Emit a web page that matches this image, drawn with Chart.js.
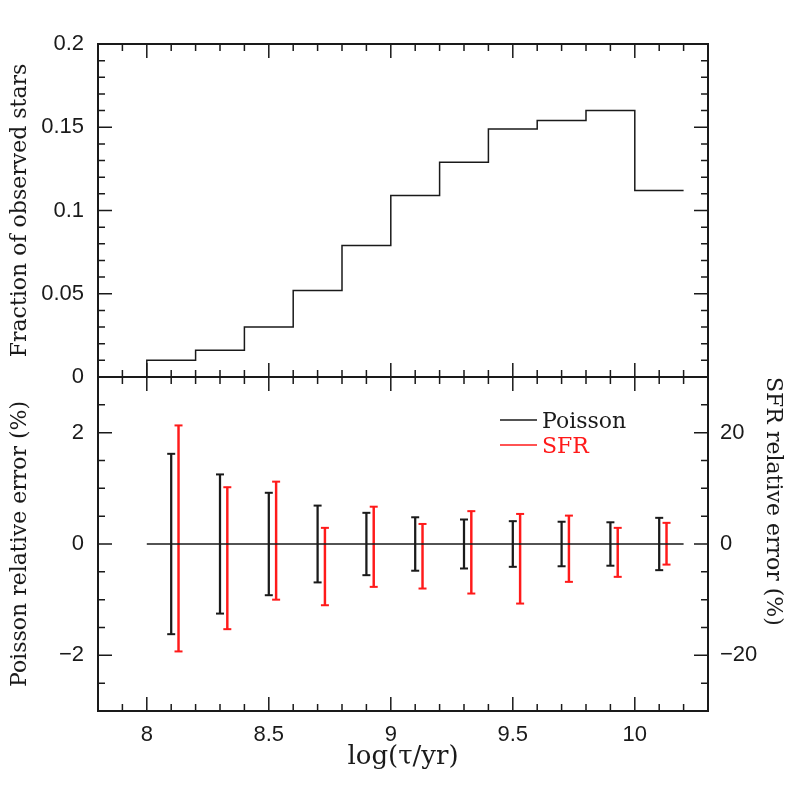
<!DOCTYPE html>
<html>
<head>
<meta charset="utf-8">
<script src="https://cdn.jsdelivr.net/npm/chart.js@4.4.0/dist/chart.umd.min.js"></script>
<style>
    html, body { margin: 0; background: #fff; }
    #wrap { position: relative; width: 797px; height: 797px; }
    #wrap canvas { position: absolute; left: 0; top: 0; }
</style>
</head>
<body>
<div id="wrap">
    <canvas id="chartFraction" width="797" height="797"></canvas>
    <canvas id="chartError" width="797" height="797"></canvas>
</div>
<script>
// Top panel: fraction of observed stars per age bin
const binEdges = [8.0, 8.2, 8.4, 8.6, 8.8, 9.0, 9.2, 9.4, 9.6, 9.8, 10.0, 10.2];
const fraction = [0.010, 0.016, 0.030, 0.052, 0.079, 0.109, 0.129, 0.149, 0.154, 0.160, 0.112];

// Bottom panel: relative errors
const binCentres = [8.1, 8.3, 8.5, 8.7, 8.9, 9.1, 9.3, 9.5, 9.7, 9.9, 10.1];
const poissonErr = [1.62, 1.25, 0.92, 0.69, 0.56, 0.48, 0.44, 0.41, 0.40, 0.39, 0.47];
const sfrX = [8.13, 8.33, 8.53, 8.73, 8.93, 9.13, 9.33, 9.53, 9.73, 9.93, 10.13];
const sfrUpper = [21.3, 10.2, 11.2, 2.9, 6.7, 3.6, 5.9, 5.4, 5.1, 2.9, 3.8];
const sfrLower = [-19.3, -15.3, -10.0, -11.0, -7.7, -8.0, -8.9, -10.7, -6.8, -5.9, -3.7];
const zeroLineX = [8.0, 10.2];

// Tick labels
const ageTicks = [8, 8.5, 9, 9.5, 10];
const fracTicks = [0, 0.05, 0.1, 0.15, 0.2];
const errTicks = [-2, 0, 2];
const sfrTicks = [-20, 0, 20];

const ink = '#1a1a1a';
const red = '#ff1a1a';
const tickFont = { family: 'Liberation Sans', size: 22 };
const serifFont = { family: 'DejaVu Serif', size: 22 };

function fmt(v) {
    return String(v).replace('-', '\u2212');
}

// frame with inward major/minor ticks on all four sides
const frameTicks = {
    id: 'frameTicks',
    afterDraw(chart, args, opts) {
        const ctx = chart.ctx;
        const a = chart.chartArea;
        ctx.save();
        ctx.strokeStyle = ink;
        ctx.lineWidth = 1.5;

        function eachTick(scale, minor, major, cb) {
            const k0 = Math.ceil(scale.min / minor - 1e-6);
            const k1 = Math.floor(scale.max / minor + 1e-6);
            for (let k = k0; k <= k1; k++) {
                const v = k * minor;
                const isMajor = Math.abs(v / major - Math.round(v / major)) < 1e-6;
                cb(scale.getPixelForValue(v), isMajor ? 14 : 7);
            }
        }

        ctx.beginPath();
        eachTick(chart.scales.x, opts.x.minor, opts.x.major, (px, len) => {
            ctx.moveTo(px, a.bottom); ctx.lineTo(px, a.bottom - len);
            ctx.moveTo(px, a.top); ctx.lineTo(px, a.top + len);
        });
        eachTick(chart.scales[opts.left.scale], opts.left.minor, opts.left.major, (py, len) => {
            ctx.moveTo(a.left, py); ctx.lineTo(a.left + len, py);
        });
        eachTick(chart.scales[opts.right.scale], opts.right.minor, opts.right.major, (py, len) => {
            ctx.moveTo(a.right, py); ctx.lineTo(a.right - len, py);
        });
        ctx.stroke();

        ctx.lineWidth = 2;
        ctx.strokeRect(a.left, a.top, a.right - a.left, a.bottom - a.top);
        ctx.restore();
    }
};

// legend drawn inside the lower panel
const errLegend = {
    id: 'errLegend',
    afterDraw(chart, args, opts) {
        const ctx = chart.ctx;
        ctx.save();
        ctx.font = serifFont.size + 'px "' + serifFont.family + '"';
        ctx.textBaseline = 'alphabetic';
        ctx.lineWidth = 1.5;
        opts.items.forEach((item, i) => {
            const y = opts.y + i * opts.gap;
            ctx.strokeStyle = item.color;
            ctx.beginPath();
            ctx.moveTo(opts.x, y);
            ctx.lineTo(opts.x + 37, y);
            ctx.stroke();
            ctx.fillStyle = item.color;
            ctx.fillText(item.label, opts.x + 42, y + 8);
        });
        ctx.restore();
    }
};

function setTicks(values) {
    return scale => { scale.ticks = values.map(v => ({ value: v })); };
}

// upper panel
new Chart(document.getElementById('chartFraction'), {
    type: 'line',
    data: {
        datasets: [{
            data: [{ x: binEdges[0], y: 0 }].concat(fraction.map((f, i) => ({ x: binEdges[i + 1], y: f }))),
            stepped: 'after',
            borderColor: ink,
            borderWidth: 1.5,
            pointRadius: 0,
            fill: false
        }]
    },
    options: {
        responsive: false,
        animation: false,
        layout: { padding: { top: 44, right: 89, bottom: 420, left: 0 } },
        plugins: {
            legend: { display: false },
            tooltip: { enabled: false },
            frameTicks: {
                x: { minor: 0.1, major: 0.5 },
                left: { scale: 'y', minor: 0.01, major: 0.05 },
                right: { scale: 'y', minor: 0.01, major: 0.05 }
            }
        },
        scales: {
            x: { type: 'linear', min: 7.8, max: 10.3, display: false },
            y: {
                min: 0, max: 0.2,
                afterBuildTicks: setTicks(fracTicks),
                afterFit: s => { s.width = 98; },
                grid: { display: false, drawTicks: false },
                border: { display: false },
                ticks: { font: tickFont, color: ink, padding: 14, callback: fmt },
                title: { display: true, text: 'Fraction of observed stars', font: serifFont, color: ink, padding: { top: 7, bottom: 0 } }
            }
        }
    },
    plugins: [frameTicks]
});

// lower panel
new Chart(document.getElementById('chartError'), {
    type: 'scatter',
    data: {
        datasets: [
            {
                type: 'line',
                data: zeroLineX.map(x => ({ x: x, y: 0 })),
                borderColor: ink,
                borderWidth: 1.5,
                pointRadius: 0,
                yAxisID: 'y'
            },
            {
                type: 'bar',
                data: binCentres.map((x, i) => ({ x: x, y: [-poissonErr[i], poissonErr[i]] })),
                backgroundColor: ink,
                barThickness: 1.6,
                grouped: false,
                yAxisID: 'y'
            },
            {
                data: binCentres.flatMap((x, i) => [{ x: x, y: poissonErr[i] }, { x: x, y: -poissonErr[i] }]),
                pointStyle: 'line',
                pointRadius: 4,
                borderColor: ink,
                borderWidth: 2,
                yAxisID: 'y'
            },
            {
                type: 'bar',
                data: sfrX.map((x, i) => ({ x: x, y: [sfrLower[i], sfrUpper[i]] })),
                backgroundColor: red,
                barThickness: 1.8,
                grouped: false,
                yAxisID: 'y2'
            },
            {
                data: sfrX.flatMap((x, i) => [{ x: x, y: sfrUpper[i] }, { x: x, y: sfrLower[i] }]),
                pointStyle: 'line',
                pointRadius: 4,
                borderColor: red,
                borderWidth: 2,
                yAxisID: 'y2'
            }
        ]
    },
    options: {
        responsive: false,
        animation: false,
        layout: { padding: { top: 377, right: 0, bottom: 0, left: 0 } },
        plugins: {
            legend: { display: false },
            tooltip: { enabled: false },
            frameTicks: {
                x: { minor: 0.1, major: 0.5 },
                left: { scale: 'y', minor: 0.5, major: 2 },
                right: { scale: 'y2', minor: 5, major: 20 }
            },
            errLegend: {
                x: 500, y: 420, gap: 25,
                items: [{ label: 'Poisson', color: ink }, { label: 'SFR', color: red }]
            }
        },
        scales: {
            x: {
                type: 'linear', min: 7.8, max: 10.3, offset: false,
                afterBuildTicks: setTicks(ageTicks),
                afterFit: s => { s.height = 86; },
                grid: { display: false, drawTicks: false },
                border: { display: false },
                ticks: { font: tickFont, color: ink, padding: 11, callback: fmt, maxRotation: 0 },
                title: { display: true, text: 'log(\u03c4/yr)', font: { family: 'DejaVu Serif', size: 26 }, color: ink, padding: { top: 0, bottom: 24 } }
            },
            y: {
                position: 'left',
                min: -3, max: 3,
                afterBuildTicks: setTicks(errTicks),
                afterFit: s => { s.width = 98; },
                grid: { display: false, drawTicks: false },
                border: { display: false },
                ticks: { font: tickFont, color: ink, padding: 14, callback: fmt },
                title: { display: true, text: 'Poisson relative error (%)', font: serifFont, color: ink, padding: { top: 7, bottom: 0 } }
            },
            y2: {
                position: 'right',
                min: -30, max: 30,
                afterBuildTicks: setTicks(sfrTicks),
                afterFit: s => { s.width = 89; },
                grid: { display: false, drawTicks: false },
                border: { display: false },
                ticks: { font: tickFont, color: ink, padding: 12, callback: fmt },
                title: { display: true, text: 'SFR relative error (%)', align: 'end', font: serifFont, color: ink, padding: { top: 11, bottom: 0 } }
            }
        }
    },
    plugins: [frameTicks, errLegend]
});
</script>
</body>
</html>
